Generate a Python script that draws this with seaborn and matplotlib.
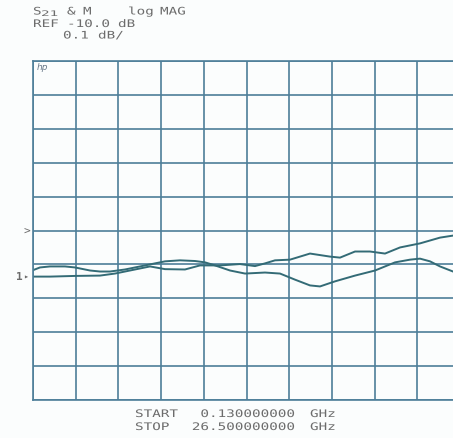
import numpy as np
import pandas as pd
import matplotlib
matplotlib.use("Agg")
import matplotlib.pyplot as plt
import seaborn as sns
from matplotlib.patheffects import AbstractPathEffect
from matplotlib.transforms import Affine2D

# Sweep settings
start_ghz = 0.13
stop_ghz = 26.5
ref_db = -10.0
scale_db = 0.1

# Trace 1: transmission magnitude (dB) vs frequency (GHz)
freq_1 = [0.13, 0.562, 1.18, 2.107, 2.724, 3.650, 4.268, 4.886, 5.812, 7.047,
          8.282, 9.209, 10.135, 10.753, 11.370, 12.297, 13.223, 14.458, 15.385,
          16.311, 17.237, 17.855, 18.781, 20.017, 21.252, 22.487, 23.413,
          24.031, 24.648, 25.266, 26.069, 26.5]
mag_1 = [-10.117, -10.109, -10.106, -10.106, -10.109, -10.118, -10.121, -10.121,
         -10.115, -10.103, -10.091, -10.088, -10.090, -10.094, -10.103, -10.118,
         -10.127, -10.124, -10.127, -10.145, -10.162, -10.165, -10.150, -10.133,
         -10.118, -10.094, -10.086, -10.083, -10.091, -10.106, -10.121, -10.130]

# Trace 2: memory trace magnitude (dB) vs frequency (GHz)
freq_2 = [0.13, 1.18, 2.724, 4.268, 5.194, 6.120, 7.356, 8.282, 9.517, 10.444,
          11.679, 12.914, 13.840, 14.458, 15.076, 16.002, 17.237, 18.472,
          19.090, 20.017, 20.943, 21.869, 22.796, 24.031, 25.266, 26.069, 26.5]
mag_2 = [-10.136, -10.136, -10.134, -10.133, -10.127, -10.118, -10.106, -10.114,
         -10.115, -10.103, -10.103, -10.099, -10.105, -10.097, -10.088, -10.086,
         -10.068, -10.077, -10.080, -10.062, -10.062, -10.068, -10.050, -10.038,
         -10.021, -10.015, -10.012]

df = pd.concat([
    pd.DataFrame({"freq": freq_1, "mag": mag_1, "trace": "S21"}),
    pd.DataFrame({"freq": freq_2, "mag": mag_2, "trace": "M"}),
], ignore_index=True)

sns.set_style("white")
plt.rcParams["font.family"] = ["DejaVu Sans Mono", "DejaVu Sans"]

W, H = 453, 439
DPI = 100
fig = plt.figure(figsize=(W / DPI, H / DPI), dpi=DPI, facecolor="#fbfdfd")

# Graticule: 10 x 10 divisions; the right edge runs slightly past the sheet
left_px, right_px, top_px, bottom_px = 33, 460, 62, 401
ax = fig.add_axes([left_px / W, 1 - bottom_px / H,
                   (right_px - left_px) / W, (bottom_px - top_px) / H])
ax.set_facecolor("#fbfdfd")

trace_color = "#336b76"
sns.lineplot(data=df, x="freq", y="mag", units="trace", estimator=None,
             color=trace_color, linewidth=1.4, sort=False, legend=False, ax=ax)

ax.set_xlim(start_ghz, stop_ghz)
ax.set_ylim(ref_db - 5 * scale_db, ref_db + 5 * scale_db)
ax.set_xticks(np.linspace(start_ghz, stop_ghz, 11))
ax.set_yticks(np.linspace(ref_db - 5 * scale_db, ref_db + 5 * scale_db, 11))
grid_color = "#4d7e99"
ax.grid(True, color=grid_color, linewidth=1.2)
ax.tick_params(length=0, labelleft=False, labelbottom=False)
ax.set_xlabel("")
ax.set_ylabel("")
for sp in ax.spines.values():
    sp.set_color(grid_color)
    sp.set_linewidth(1.2)


class WideGlyphs(AbstractPathEffect):
    """Widen text horizontally about its left anchor (plotter-style lettering)."""

    def __init__(self, sx, x0):
        super().__init__()
        self.sx = sx
        self.x0 = x0

    def draw_path(self, renderer, gc, tpath, affine, rgbFace=None):
        widen = (Affine2D().translate(-self.x0, 0)
                 .scale(self.sx, 1).translate(self.x0, 0))
        renderer.draw_path(gc, tpath, affine + widen, rgbFace)


txt = "#6c6c6c"
PITCH = 8.6  # character pitch in pixels


def put(x, y, s, size=7.5, stretch=True, **kw):
    t = fig.text(x / W, 1 - y / H, s, color=txt, fontsize=size,
                 va="center", ha="left", **kw)
    if stretch:
        natural = 0.602 * size * DPI / 72
        t.set_path_effects([WideGlyphs(PITCH / natural, x)])
    return t


def put_right(x_end, y, s, **kw):
    return put(x_end - len(s) * PITCH, y, s, **kw)


# Header annotations
put(33, 12.5, "S")
put(41, 14.5, "21", size=5.5)
put(67, 12.5, "&")
put(83, 12.5, "M")
put(128, 12.5, "log")
put(160, 12.5, "MAG")
put(33, 25, "REF")
put(67, 25, "-10.0")
put(118, 25, "dB")
put(63, 36.5, "0.1")
put(98, 36.5, "dB/")

# Sweep limits
put(135, 415, "START")
put_right(295, 415, "0.130000000")
put(310, 415, "GHz")
put(135, 428, "STOP")
put_right(295, 428, "26.500000000")
put(310, 428, "GHz")

# Reference position and trace marker
put(24, 232, ">", size=8, stretch=False)
put(16, 277, "1", size=8, stretch=False, fontweight="bold")
put(23, 277, "\u25b8", size=6, stretch=False)

# Logo inside the graticule
fig.text(37 / W, 1 - 68 / H, "hp", color="#6a7a8a", fontsize=6.5,
         style="italic", fontfamily="DejaVu Sans", va="center", ha="left")

fig.savefig("out.png", dpi=DPI, facecolor=fig.get_facecolor())
